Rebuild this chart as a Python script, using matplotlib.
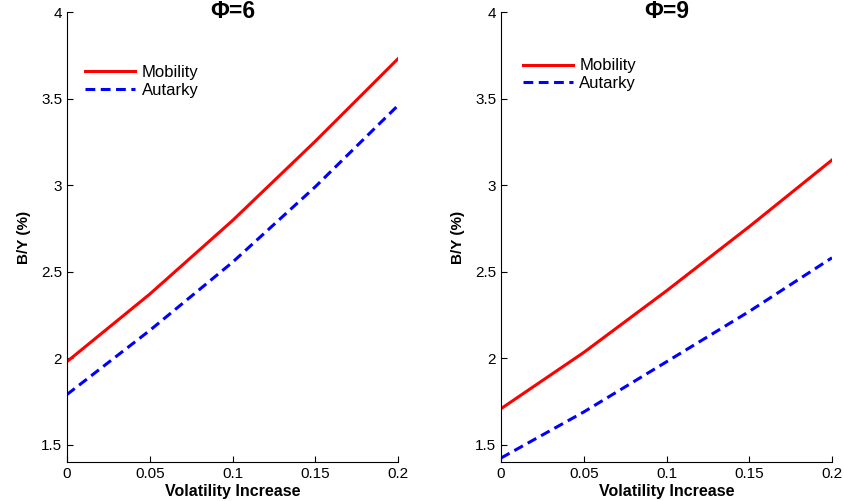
import matplotlib

matplotlib.use("Agg")
import matplotlib.pyplot as plt

plt.rcParams["font.family"] = ["Liberation Sans", "DejaVu Sans"]

# values
vol = [0.0, 0.05, 0.1, 0.15, 0.2]

mob_phi6 = [1.98, 2.37, 2.795, 3.253, 3.73]
aut_phi6 = [1.79, 2.16, 2.554, 2.99, 3.46]

mob_phi9 = [1.708, 2.033, 2.389, 2.76, 3.145]
aut_phi9 = [1.423, 1.689, 1.979, 2.27, 2.58]

titles = ["Φ=6", "Φ=9"]
xticks = [0, 0.05, 0.1, 0.15, 0.2]
xtick_labels = ["0", "0.05", "0.1", "0.15", "0.2"]
yticks = [1.5, 2, 2.5, 3, 3.5, 4]
ytick_labels = ["1.5", "2", "2.5", "3", "3.5", "4"]

fig = plt.figure(figsize=(8.45, 5.01), dpi=100)
ax1 = fig.add_axes([67 / 845, 39 / 501, 331 / 845, 450 / 501])
ax2 = fig.add_axes([501 / 845, 39 / 501, 331 / 845, 450 / 501])

panels = [
    (ax1, mob_phi6, aut_phi6, titles[0], (0.01, 0.915)),
    (ax2, mob_phi9, aut_phi9, titles[1], (0.02, 0.93)),
]

for ax, mob, aut, title, leg_pos in panels:
    ax.plot(vol, mob, color="red", lw=2.2, label="Mobility")
    ax.plot(vol, aut, color="blue", lw=2.2, linestyle="--", dashes=(3.2, 1.8),
            label="Autarky")

    ax.set_xlim(0, 0.2)
    ax.set_ylim(1.4, 4)
    ax.set_xticks(xticks)
    ax.set_xticklabels(xtick_labels)
    ax.set_yticks(yticks)
    ax.set_yticklabels(ytick_labels)
    ax.tick_params(direction="in", length=4, labelsize=11, width=0.8)

    # matlab style: box off
    ax.spines["top"].set_visible(False)
    ax.spines["right"].set_visible(False)

    ax.text(0.5, 1.0, title, transform=ax.transAxes, ha="center", va="center",
            fontweight="bold", fontsize=16.5)
    ax.set_xlabel("Volatility Increase", fontweight="bold", fontsize=11.5, labelpad=2)
    ax.set_ylabel("B/Y (%)", fontweight="bold", fontsize=11, labelpad=7)

    ax.legend(loc="upper left", bbox_to_anchor=leg_pos, frameon=False,
              handlelength=3.0, fontsize=12, labelspacing=0.15,
              handletextpad=0.4)

fig.savefig("out.png", dpi=100)
